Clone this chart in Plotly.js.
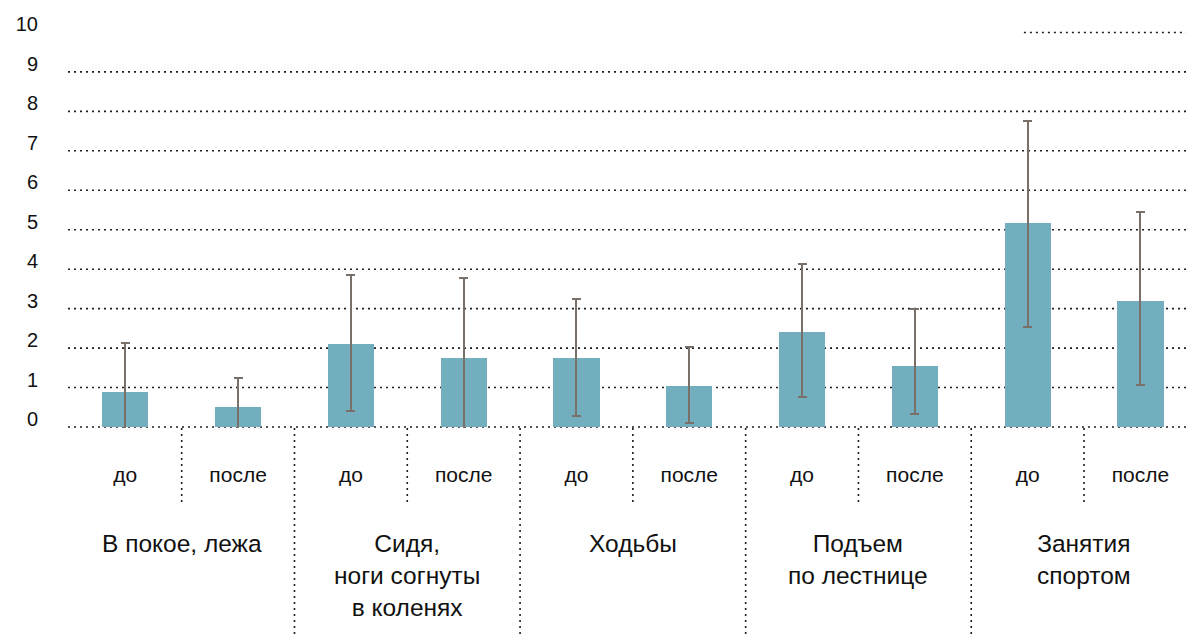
<!DOCTYPE html>
<html>
<head>
<meta charset="utf-8">
<script src="https://cdn.plot.ly/plotly-3.0.1.min.js"></script>
<style>
  html, body { margin: 0; padding: 0; background: #ffffff; }
  #chart { width: 1186px; height: 637px; }
</style>
</head>
<body>
<div id="chart"></div>
<script>
// Activity groups, each measured before ("до") and after ("после")
const groupLines = [
  ['В покое, лежа'],
  ['Сидя,', 'ноги согнуты', 'в коленях'],
  ['Ходьбы'],
  ['Подъем', 'по лестнице'],
  ['Занятия', 'спортом']
];
const subLabels = ['до', 'после', 'до', 'после', 'до', 'после', 'до', 'после', 'до', 'после'];

// Mean score for each bar, in the same order as subLabels
const means = [0.89, 0.51, 2.10, 1.75, 1.75, 1.04, 2.41, 1.55, 5.17, 3.19];
// Upper and lower error extents
const errUp = [1.23, 0.74, 1.76, 2.02, 1.49, 0.98, 1.72, 1.45, 2.59, 2.26];
const errDown = [1.23, 0.74, 1.69, 2.02, 1.46, 0.94, 1.65, 1.23, 2.63, 2.13];

// Value axis ticks
const yTickVals = [0, 1, 2, 3, 4, 5, 6, 7, 8, 9, 10];
const yTickText = ['0', '1', '2', '3', '4', '5', '6', '7', '8', '9', '10'];

const FONT = 'Liberation Sans, Arial, Helvetica, sans-serif';
const BAR_COLOR = '#72aebd';
const ERR_COLOR = '#7a706a';
const DOT = '2px,4px';
const DOT_COLOR = '#1e1e1e';

const xIdx = subLabels.map((_, i) => i);

const trace = {
  type: 'bar',
  x: xIdx,
  y: means,
  width: 0.41,
  marker: { color: BAR_COLOR, line: { width: 0 } },
  error_y: {
    type: 'data',
    symmetric: false,
    array: errUp,
    arrayminus: errDown,
    color: ERR_COLOR,
    thickness: 2,
    width: 4.5
  },
  hoverinfo: 'skip',
  showlegend: false
};

const shapes = [];
// Dotted horizontal gridlines; the top one only runs along the right edge
yTickVals.forEach(v => {
  shapes.push({
    type: 'line', layer: 'below',
    xref: 'paper', x0: v === 10 ? 0.855 : 0, x1: 1,
    yref: 'y', y0: v, y1: v,
    line: { color: DOT_COLOR, width: 1.6, dash: DOT }
  });
});
// Dotted separators: short ones between до/после, long ones between groups
for (let k = 0; k < subLabels.length - 1; k++) {
  const between = (k % 2) === 1;
  shapes.push({
    type: 'line', layer: 'above',
    xref: 'x', x0: k + 0.5, x1: k + 0.5,
    yref: 'paper', y0: 0, y1: between ? -0.5135 : -0.184,
    line: { color: DOT_COLOR, width: 1.6, dash: DOT }
  });
}

// Group names under each pair
const annotations = groupLines.map((lines, g) => ({
  xref: 'x', x: 2 * g + 0.5,
  yref: 'paper', y: -0.246,
  xanchor: 'center', yanchor: 'top',
  showarrow: false,
  align: 'center',
  text: lines.join('<br>'),
  font: { family: FONT, size: 24.5, color: '#111111' }
}));

const layout = {
  width: 1186,
  height: 637,
  margin: { l: 68, r: 0, t: 21, b: 209, pad: 0 },
  paper_bgcolor: '#ffffff',
  plot_bgcolor: '#ffffff',
  font: { family: FONT, color: '#111111' },
  xaxis: {
    range: [-0.508, 9.404],
    tickmode: 'array',
    tickvals: xIdx,
    ticktext: subLabels,
    showgrid: false, zeroline: false, showline: false,
    ticks: '',
    ticklabelstandoff: 32,
    tickfont: { family: FONT, size: 21, color: '#111111' },
    fixedrange: true
  },
  yaxis: {
    range: [-0.0253, 10.29],
    tickmode: 'array',
    tickvals: yTickVals,
    ticktext: yTickText,
    showgrid: false, zeroline: false, showline: false,
    ticks: '',
    ticklabelshift: -8,
    ticklabelstandoff: 29,
    tickfont: { family: FONT, size: 20, color: '#111111' },
    fixedrange: true
  },
  shapes: shapes,
  annotations: annotations,
  bargap: 0
};

Plotly.newPlot('chart', [trace], layout, { displayModeBar: false, staticPlot: true });
</script>
</body>
</html>
